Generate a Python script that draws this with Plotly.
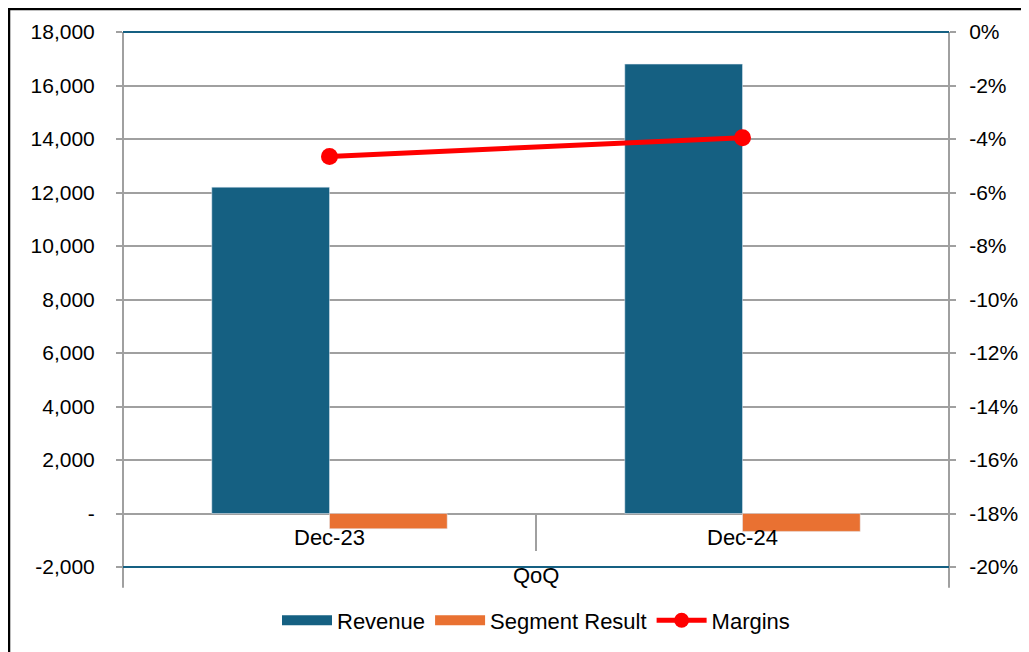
import plotly.graph_objects as go

categories = ["Dec-23", "Dec-24"]
group_label = "QoQ"
revenue = [12200, 16800]
segment_result = [-570, -670]
margins = [-0.0465, -0.0395]

left_ticks = [-2000, 0, 2000, 4000, 6000, 8000, 10000, 12000, 14000, 16000, 18000]
left_text = ["-2,000", "-", "2,000", "4,000", "6,000", "8,000", "10,000",
             "12,000", "14,000", "16,000", "18,000"]
right_ticks = [-0.20, -0.18, -0.16, -0.14, -0.12, -0.10, -0.08, -0.06, -0.04, -0.02, 0.0]
right_text = ["-20%", "-18%", "-16%", "-14%", "-12%", "-10%", "-8%", "-6%", "-4%", "-2%", "0%"]

grid = "#a0a0a0"
teal = "#156082"
orange = "#e97132"
tick_font = dict(family="Liberation Sans, Arial", size=21, color="#000000")
label_font = dict(family="Liberation Sans Narrow, Liberation Sans, Arial", size=22, color="#000000")

fig = go.Figure()
fig.add_trace(go.Bar(x=categories, y=revenue, name="Revenue", marker_color=teal,
                     showlegend=False))
fig.add_trace(go.Bar(x=categories, y=segment_result, name="Segment Result",
                     marker_color=orange, showlegend=False))
fig.add_trace(go.Scatter(x=categories, y=margins, name="Margins", yaxis="y2",
                         mode="lines+markers", showlegend=False,
                         line=dict(color="#ff0000", width=5),
                         marker=dict(color="#ff0000", size=17)))

# legend entries with wide swatches like Excel
fig.add_trace(go.Scatter(x=[None], y=[None], name="Revenue", mode="lines",
                         line=dict(color=teal, width=15)))
fig.add_trace(go.Scatter(x=[None], y=[None], name="Segment Result", mode="lines",
                         line=dict(color=orange, width=15)))
fig.add_trace(go.Scatter(x=[None], y=[None], name="Margins", mode="lines+markers",
                         line=dict(color="#ff0000", width=5),
                         marker=dict(color="#ff0000", size=15)))

# category labels just under the zero line
for c in categories:
    fig.add_annotation(x=c, y=0, xref="x", yref="y", text=c, showarrow=False,
                       yanchor="middle", yshift=-24, font=label_font)
fig.add_annotation(x=0.5, y=-0.016, xref="paper", yref="paper", text=group_label,
                   showarrow=False, yanchor="middle", font=label_font)

shapes = [
    # divider between categories
    dict(type="line", xref="paper", yref="y", x0=0.5, x1=0.5, y0=0, y1=-1400,
         line=dict(color=grid, width=2)),
    # left / right axis lines extending below the plot
    dict(type="line", xref="paper", yref="paper", x0=0, x1=0, y0=-0.039, y1=1,
         line=dict(color=grid, width=2)),
    dict(type="line", xref="paper", yref="paper", x0=1, x1=1, y0=-0.039, y1=1,
         line=dict(color=grid, width=2)),
    # top and bottom teal lines
    dict(type="line", xref="paper", yref="paper", x0=0, x1=1, y0=1, y1=1,
         line=dict(color=teal, width=2)),
    dict(type="line", xref="paper", yref="paper", x0=0, x1=1, y0=0, y1=0,
         line=dict(color=teal, width=2)),
    # outer chart border
    dict(type="rect", xref="paper", yref="paper", x0=-0.138, x1=1.2, y0=-0.3, y1=1.043,
         line=dict(color="#000000", width=2.5)),
]

fig.update_layout(
    width=1029, height=652,
    margin=dict(l=115, r=88, t=24, b=93, autoexpand=False),
    paper_bgcolor="white", plot_bgcolor="white",
    barmode="group", bargap=0.43, bargroupgap=0,
    showlegend=True,
    legend=dict(orientation="h", x=0.5, xanchor="center", y=-0.1, yanchor="middle",
                font=label_font, itemwidth=50, traceorder="normal"),
    xaxis=dict(showticklabels=False, showgrid=False, zeroline=False, showline=False,
               ticks=""),
    yaxis=dict(range=[-2000, 18000], tickvals=left_ticks, ticktext=left_text,
               showgrid=True, gridcolor=grid, gridwidth=2,
               zeroline=True, zerolinecolor=grid, zerolinewidth=2,
               ticks="outside", ticklen=6, tickcolor=grid, tickwidth=2,
               tickfont=tick_font, ticklabelstandoff=17, showline=False,
               automargin=False),
    yaxis2=dict(range=[-0.20, 0.0], tickvals=right_ticks, ticktext=right_text,
                overlaying="y", side="right", showgrid=False, zeroline=False,
                ticks="outside", ticklen=6, tickcolor=grid, tickwidth=2,
                tickfont=tick_font, ticklabelstandoff=9, showline=False,
                automargin=False),
    shapes=shapes,
)

fig.write_html("out.html")
